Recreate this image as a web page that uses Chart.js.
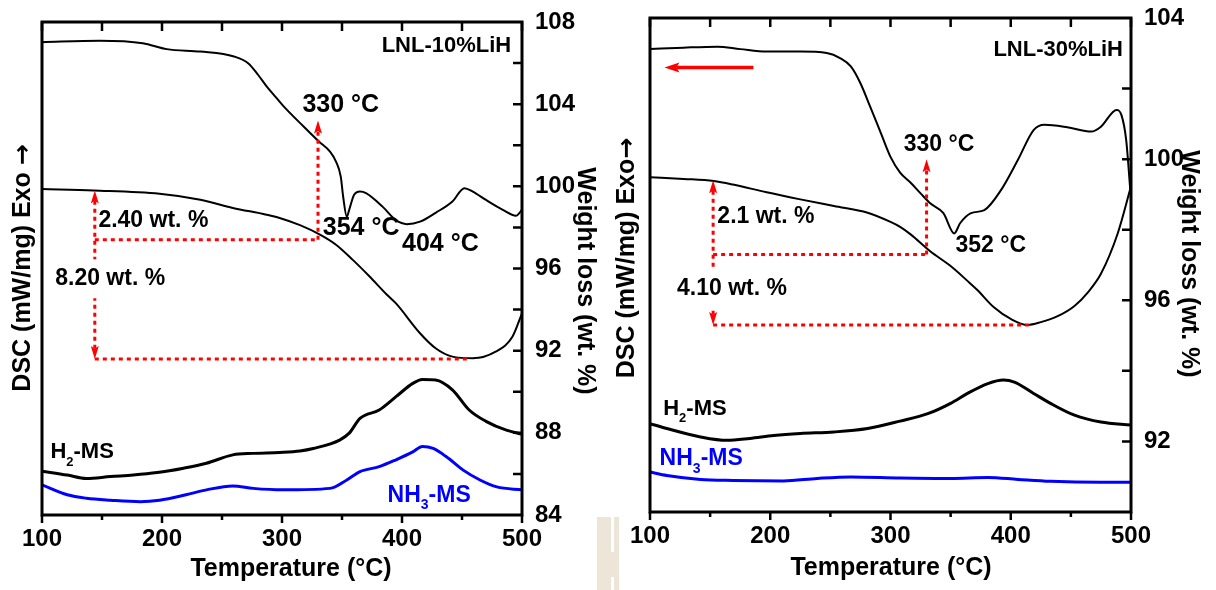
<!DOCTYPE html>
<html lang="en">
<head>
    <meta charset="UTF-8">
    <meta name="viewport" content="width=device-width, initial-scale=1.0">
    <title>TG-DSC-MS of LNL-LiH samples</title>
    <style>
        body {
            margin: 0;
            background: #fff;
            font-family: "Liberation Sans", Arial, sans-serif;
        }
        .wrap {
            position: relative;
            width: 1216px;
            height: 590px;
        }
        .panel {
            position: absolute;
            top: 0;
            width: 608px;
            height: 590px;
        }
        #p1 { left: 0; }
        #p2 { left: 608px; }
        .mark {
            position: absolute;
            background: #ece5d8;
        }
    </style>
    <script src="https://cdn.jsdelivr.net/npm/chart.js"></script>
</head>
<body>
    <div class="wrap">
        <div class="panel" id="p1"><canvas id="chart10"></canvas></div>
        <div class="panel" id="p2"><canvas id="chart30"></canvas></div>
        <div class="mark" style="left:597px;top:517px;width:22px;height:73px"></div>
        <div class="mark" style="left:611px;top:517px;width:3px;height:35px;background:#fff"></div>
        <div class="mark" style="left:611px;top:577px;width:3px;height:13px;background:#fff"></div>
    </div>

    <script>
        // ---- LNL-10%LiH ----
        // DSC, H2-MS and NH3-MS are relative signals (left axis, no scale); TG in wt. %
        const dsc10T = [100, 148, 184, 204, 232, 260, 272, 280, 287, 295, 301, 318, 331, 340, 345, 349, 351, 354, 356, 360, 365, 370, 384, 395, 404, 415, 428, 442, 452, 459, 470, 484, 495, 500];
        const dsc10 = [95.9, 96.2, 95.7, 94.5, 94.0, 93.0, 91.6, 89.3, 87.0, 84.7, 83.0, 78.8, 75.7, 73.7, 71.7, 68.6, 64.5, 60.5, 61.9, 64.9, 65.6, 65.3, 62.5, 59.8, 59.0, 59.5, 61.3, 63.6, 66.3, 65.6, 63.9, 61.9, 60.7, 61.9];
        const tg10T = [100, 143, 198, 232, 259, 287, 298, 315, 332, 345, 359, 373, 387, 395, 415, 428, 442, 459, 478, 492, 500];
        const tg10 = [99.87, 99.80, 99.64, 99.35, 98.95, 98.62, 98.46, 98.11, 97.64, 97.16, 96.42, 95.61, 94.75, 94.3, 92.85, 92.12, 91.71, 91.63, 91.95, 92.68, 93.82];
        const h2_10T = [100, 121, 137, 157, 176, 196, 218, 237, 259, 276, 298, 315, 326, 348, 356, 365, 381, 395, 409, 417, 428, 442, 456, 470, 487, 500];
        const h2_10 = [8.9, 8.1, 7.4, 7.8, 8.1, 8.6, 9.5, 10.5, 12.2, 12.5, 12.7, 13.0, 13.5, 15.2, 16.6, 19.6, 21.3, 24.0, 26.7, 27.5, 27.4, 25.4, 21.3, 19.0, 17.2, 16.4];
        const nh3_10T = [100, 121, 137, 157, 182, 198, 220, 237, 259, 276, 301, 340, 354, 365, 381, 395, 409, 417, 426, 437, 451, 465, 479, 500];
        const nh3_10 = [6.1, 4.1, 3.4, 3.0, 2.7, 3.0, 4.1, 5.1, 5.9, 5.4, 5.1, 5.4, 7.1, 8.8, 9.8, 11.2, 12.8, 13.9, 13.5, 11.8, 9.1, 7.1, 5.7, 5.1];
        const start10 = 99.8;          // TG level where the loss arrows start (144 °C)
        const loss10 = [2.40, 8.20];   // wt. % losses
        const onset10 = 330;
        const peaks10 = [354, 404];

        // ---- LNL-30%LiH ----
        const dsc30T = [100, 128, 156, 175, 197, 225, 247, 258, 267, 275, 283, 292, 300, 308, 317, 325, 333, 344, 353, 358, 367, 378, 392, 406, 419, 428, 447, 467, 475, 488, 492, 496, 500];
        const dsc30 = [93.7, 94.0, 94.2, 93.7, 93.2, 93.2, 92.9, 91.9, 90.2, 86.8, 82.1, 76.7, 71.9, 68.7, 66.6, 64.5, 62.5, 60.5, 56.4, 58.5, 60.5, 61.1, 65.2, 71.3, 77.3, 78.4, 77.9, 77.0, 78.0, 81.4, 80.4, 75.3, 63.2];
        const tg30T = [100, 128, 153, 169, 197, 225, 253, 281, 300, 308, 317, 333, 350, 364, 372, 386, 400, 414, 425, 439, 453, 464, 475, 489, 500];
        const tg30 = [99.49, 99.44, 99.38, 99.28, 99.06, 98.86, 98.67, 98.48, 98.22, 98.08, 97.86, 97.39, 96.97, 96.55, 96.3, 95.8, 95.47, 95.30, 95.38, 95.55, 95.84, 96.22, 96.75, 97.9, 99.23];
        const h2_30T = [100, 114, 142, 164, 183, 203, 225, 253, 281, 308, 331, 350, 364, 381, 394, 403, 419, 433, 453, 475, 500];
        const h2_30 = [17.9, 16.9, 15.2, 14.5, 14.9, 15.5, 15.9, 16.2, 16.9, 18.4, 19.9, 22.0, 24.0, 26.0, 26.7, 26.3, 24.0, 22.0, 19.6, 18.2, 17.6];
        const nh3_30T = [100, 114, 142, 169, 211, 239, 267, 308, 350, 381, 406, 433, 475, 500];
        const nh3_30 = [8.1, 7.4, 6.6, 6.4, 6.3, 6.8, 7.1, 6.9, 6.8, 7.0, 6.6, 6.2, 6.0, 6.0];
        const start30 = 99.4;          // TG level at 152 °C
        const loss30 = [2.1, 4.10];
        const onset30 = 330;
        const peaks30 = [352];

        const FONT = '"Liberation Sans", Arial, sans-serif';
        const RED = '#ff0000';
        const BLUE = '#0000ff';
        Chart.defaults.font.family = FONT;
        Chart.defaults.color = '#000';

        function pts(ts, vs) {
            return ts.map((t, i) => ({ x: t, y: vs[i] }));
        }

        function line(ts, vs, color, axis, width) {
            return {
                data: pts(ts, vs),
                yAxisID: axis,
                borderColor: color,
                borderWidth: width,
                pointRadius: 0,
                fill: false,
                cubicInterpolationMode: 'monotone'
            };
        }

        // filled arrow head with its tip at (x2, y2)
        function arrowHead(ctx, x1, y1, x2, y2, len, half, color) {
            const ang = Math.atan2(y2 - y1, x2 - x1);
            ctx.save();
            ctx.translate(x2, y2);
            ctx.rotate(ang);
            ctx.fillStyle = color;
            ctx.beginPath();
            ctx.moveTo(0, 0);
            ctx.lineTo(-len, -half);
            ctx.lineTo(-len * 0.8, 0);
            ctx.lineTo(-len, half);
            ctx.closePath();
            ctx.fill();
            ctx.restore();
        }

        function arrowLine(ctx, a, b, heads, dashed, width, len, half) {
            const [x1, y1] = a, [x2, y2] = b;
            const d = Math.hypot(x2 - x1, y2 - y1);
            const ux = (x2 - x1) / d, uy = (y2 - y1) / d;
            let sx = x1, sy = y1, ex = x2, ey = y2;
            if (heads.includes('start')) { sx += ux * len * 0.8; sy += uy * len * 0.8; }
            if (heads.includes('end')) { ex -= ux * len * 0.8; ey -= uy * len * 0.8; }
            ctx.save();
            ctx.strokeStyle = RED;
            ctx.lineWidth = width;
            ctx.setLineDash(dashed ? [4, 4] : []);
            ctx.beginPath();
            ctx.moveTo(sx, sy);
            ctx.lineTo(ex, ey);
            ctx.stroke();
            ctx.restore();
            if (heads.includes('start')) arrowHead(ctx, x2, y2, x1, y1, len, half, RED);
            if (heads.includes('end')) arrowHead(ctx, x1, y1, x2, y2, len, half, RED);
        }

        // text with optional subscript parts: [[string, isSub], ...]
        function drawLabel(ctx, x, y, lab) {
            const parts = lab.parts || [[lab.text, false]];
            const size = lab.size;
            const sub = Math.round(size * 0.6);
            const f = s => `bold ${s}px ${FONT}`;
            let total = 0;
            parts.forEach(([s, isSub]) => {
                ctx.font = f(isSub ? sub : size);
                total += ctx.measureText(s).width;
            });
            let cx = lab.align === 'right' ? x - total : x;
            if (lab.bg) {
                ctx.fillStyle = '#fff';
                ctx.fillRect(cx - 2, y - size / 2 - 8, total + 4, size + 16);
            }
            ctx.fillStyle = lab.color || '#000';
            ctx.textAlign = 'left';
            ctx.textBaseline = 'middle';
            parts.forEach(([s, isSub]) => {
                ctx.font = f(isSub ? sub : size);
                ctx.fillText(s, cx, isSub ? y + size * 0.45 : y);
                cx += ctx.measureText(s).width;
            });
        }

        // axis title centred on (cx, cy); the arrow glyph comes from DejaVu Sans
        function drawAxisTitle(ctx, cx, cy, rot, text, arrow) {
            const main = `bold 25px ${FONT}`;
            const arw = 'bold 25px "DejaVu Sans", sans-serif';
            ctx.save();
            ctx.translate(cx, cy);
            ctx.rotate(rot);
            ctx.fillStyle = '#000';
            ctx.textBaseline = 'middle';
            ctx.textAlign = 'left';
            ctx.font = main;
            const w1 = ctx.measureText(text).width;
            let w2 = 0;
            if (arrow) {
                ctx.font = arw;
                w2 = ctx.measureText(arrow).width;
            }
            const x0 = -(w1 + w2) / 2;
            ctx.font = main;
            ctx.fillText(text, x0, 0);
            if (arrow) {
                ctx.font = arw;
                ctx.fillText(arrow, x0 + w1, 0);
            }
            ctx.restore();
        }

        function drawNotes(chart, p) {
            const { ctx, chartArea: a, scales: { x, yW } } = chart;
            const X = t => x.getPixelForValue(t);
            const Y = w => yW.getPixelForValue(w);
            const P = (t, w) => [X(t), Y(w)];

            ctx.save();
            // tick marks: top and right point inward, bottom outward
            ctx.strokeStyle = '#000';
            ctx.lineWidth = 2.5;
            ctx.beginPath();
            for (let t = 100; t <= 500; t += 50) {
                const px = X(t);
                ctx.moveTo(px, a.top);
                ctx.lineTo(px, a.top + 9);
                ctx.moveTo(px, a.bottom);
                ctx.lineTo(px, a.bottom + (t % 100 === 0 ? 8 : 5));
            }
            for (let w = yW.min + 2; w < yW.max; w += 2) {
                const py = Y(w);
                ctx.moveTo(a.right, py);
                ctx.lineTo(a.right - 9, py);
            }
            ctx.stroke();
            ctx.lineWidth = 3;
            ctx.strokeRect(a.left, a.top, a.right - a.left, a.bottom - a.top);

            drawAxisTitle(ctx, p.dTitle[0], p.dTitle[1], -Math.PI / 2, p.dscTitle, '\u2192');
            drawAxisTitle(ctx, p.wTitle[0], p.wTitle[1], Math.PI / 2, 'Weight loss (wt. %)', '');
            drawAxisTitle(ctx, p.xTitle[0], p.xTitle[1], 0, 'Temperature (°C)', '');

            // dotted construction lines for the weight losses and onset
            const top = p.start, mid = p.start - p.loss[0], low = p.start - p.loss[1];
            arrowLine(ctx, P(p.arrowT, top), P(p.arrowT, low), ['start', 'end'], true, 3, 13, 4);
            arrowLine(ctx, P(p.arrowT, mid), P(p.onset, mid), [], true, 3, 0, 0);
            arrowLine(ctx, P(p.onset, mid), P(p.onset, p.onsetTip), ['end'], true, 3, 13, 4);
            arrowLine(ctx, P(p.arrowT, low), P(p.lowEnd, low), [], true, 3, 0, 0);
            if (p.solid) {
                arrowLine(ctx, P(p.solid[0], p.solid[2]), P(p.solid[1], p.solid[2]), ['end'], false, 3.5, 15, 5);
            }

            p.labels.forEach(l => drawLabel(ctx, X(l.t), Y(l.w), l));
            ctx.restore();
        }

        function buildChart(id, p) {
            return new Chart(document.getElementById(id), {
                type: 'line',
                data: {
                    datasets: [
                        line(p.dscT, p.dsc, '#000', 'yD', 2),
                        line(p.tgT, p.tg, '#000', 'yW', 2),
                        line(p.h2T, p.h2, '#000', 'yD', 3),
                        line(p.nh3T, p.nh3, BLUE, 'yD', 3)
                    ]
                },
                options: {
                    responsive: true,
                    maintainAspectRatio: false,
                    animation: false,
                    layout: { padding: { top: p.top, left: 0, right: 0, bottom: 0 } },
                    plugins: {
                        legend: { display: false },
                        tooltip: { enabled: false }
                    },
                    scales: {
                        x: {
                            type: 'linear',
                            min: 100,
                            max: 500,
                            ticks: {
                                stepSize: 50,
                                autoSkip: false,
                                maxRotation: 0,
                                padding: 10,
                                color: '#000',
                                font: { size: 24, weight: 'bold' },
                                callback: v => (v % 100 === 0 ? v : '')
                            },
                            grid: { display: false, drawTicks: false },
                            border: { display: false },
                            afterFit: s => { s.height = p.xHeight; }
                        },
                        yD: {
                            type: 'linear',
                            position: 'left',
                            min: 0,
                            max: 100,
                            ticks: { display: false },
                            grid: { display: false, drawTicks: false },
                            border: { display: false },
                            afterFit: s => { s.width = 42; }
                        },
                        yW: {
                            type: 'linear',
                            position: 'right',
                            min: p.wMin,
                            max: p.wMax,
                            ticks: {
                                stepSize: 2,
                                autoSkip: false,
                                padding: 4,
                                color: '#000',
                                font: { size: 24, weight: 'bold', lineHeight: 1 },
                                callback: v => (v % 4 === 0 ? v : '')
                            },
                            // tick marks are drawn by the notes plugin; keep the gap for the labels
                            grid: { display: false, drawTicks: true, tickLength: 9 },
                            border: { display: false },
                            afterFit: s => { s.width = p.wWidth; }
                        }
                    }
                },
                plugins: [{ id: 'notes', afterDatasetsDraw: chart => drawNotes(chart, p) }]
            });
        }

        buildChart('chart10', {
            dscT: dsc10T, dsc: dsc10, tgT: tg10T, tg: tg10,
            h2T: h2_10T, h2: h2_10, nh3T: nh3_10T, nh3: nh3_10,
            wMin: 84, wMax: 108,
            top: 22, xHeight: 75, wWidth: 86,
            dTitle: [23, 268], wTitle: [585, 281], xTitle: [291, 569],
            dscTitle: 'DSC (mW/mg) Exo ',
            start: start10, loss: loss10, arrowT: 144,
            onset: onset10, onsetTip: 103.2, lowEnd: 457,
            labels: [
                { t: 491, w: 106.83, text: 'LNL-10%LiH', size: 22, align: 'right' },
                { t: 317, w: 103.96, text: onset10 + ' °C', size: 25 },
                { t: 147, w: 98.35, text: loss10[0].toFixed(2) + ' wt. %', size: 23 },
                { t: 111, w: 95.5, text: loss10[1].toFixed(2) + ' wt. %', size: 23, bg: true },
                { t: 334, w: 97.99, text: peaks10[0] + ' °C', size: 25 },
                { t: 400, w: 97.2, text: peaks10[1] + ' °C', size: 25 },
                { t: 107, w: 87.05, parts: [['H', false], ['2', true], ['-MS', false]], size: 22 },
                { t: 388, w: 84.96, parts: [['NH', false], ['3', true], ['-MS', false]], size: 23, color: BLUE }
            ]
        });

        buildChart('chart30', {
            dscT: dsc30T, dsc: dsc30, tgT: tg30T, tg: tg30,
            h2T: h2_30T, h2: h2_30, nh3T: nh3_30T, nh3: nh3_30,
            wMin: 90, wMax: 104,
            top: 18, xHeight: 78, wWidth: 85,
            dTitle: [19, 258], wTitle: [581, 264], xTitle: [283, 568],
            dscTitle: 'DSC (mW/mg) Exo',
            start: start30, loss: loss30, arrowT: 152.5,
            onset: onset30, onsetTip: 100.0, lowEnd: 415,
            solid: [186, 112, 102.6],
            labels: [
                { t: 493.3, w: 103.1, text: 'LNL-30%LiH', size: 22, align: 'right' },
                { t: 311, w: 100.4, text: onset30 + ' °C', size: 23 },
                { t: 156, w: 98.36, text: loss30[0] + ' wt. %', size: 23 },
                { t: 122.5, w: 96.32, text: loss30[1].toFixed(2) + ' wt. %', size: 23, bg: true },
                { t: 354, w: 97.54, text: peaks30[0] + ' °C', size: 23 },
                { t: 111, w: 92.93, parts: [['H', false], ['2', true], ['-MS', false]], size: 22 },
                { t: 108, w: 91.51, parts: [['NH', false], ['3', true], ['-MS', false]], size: 23, color: BLUE }
            ]
        });
    </script>
</body>
</html>
